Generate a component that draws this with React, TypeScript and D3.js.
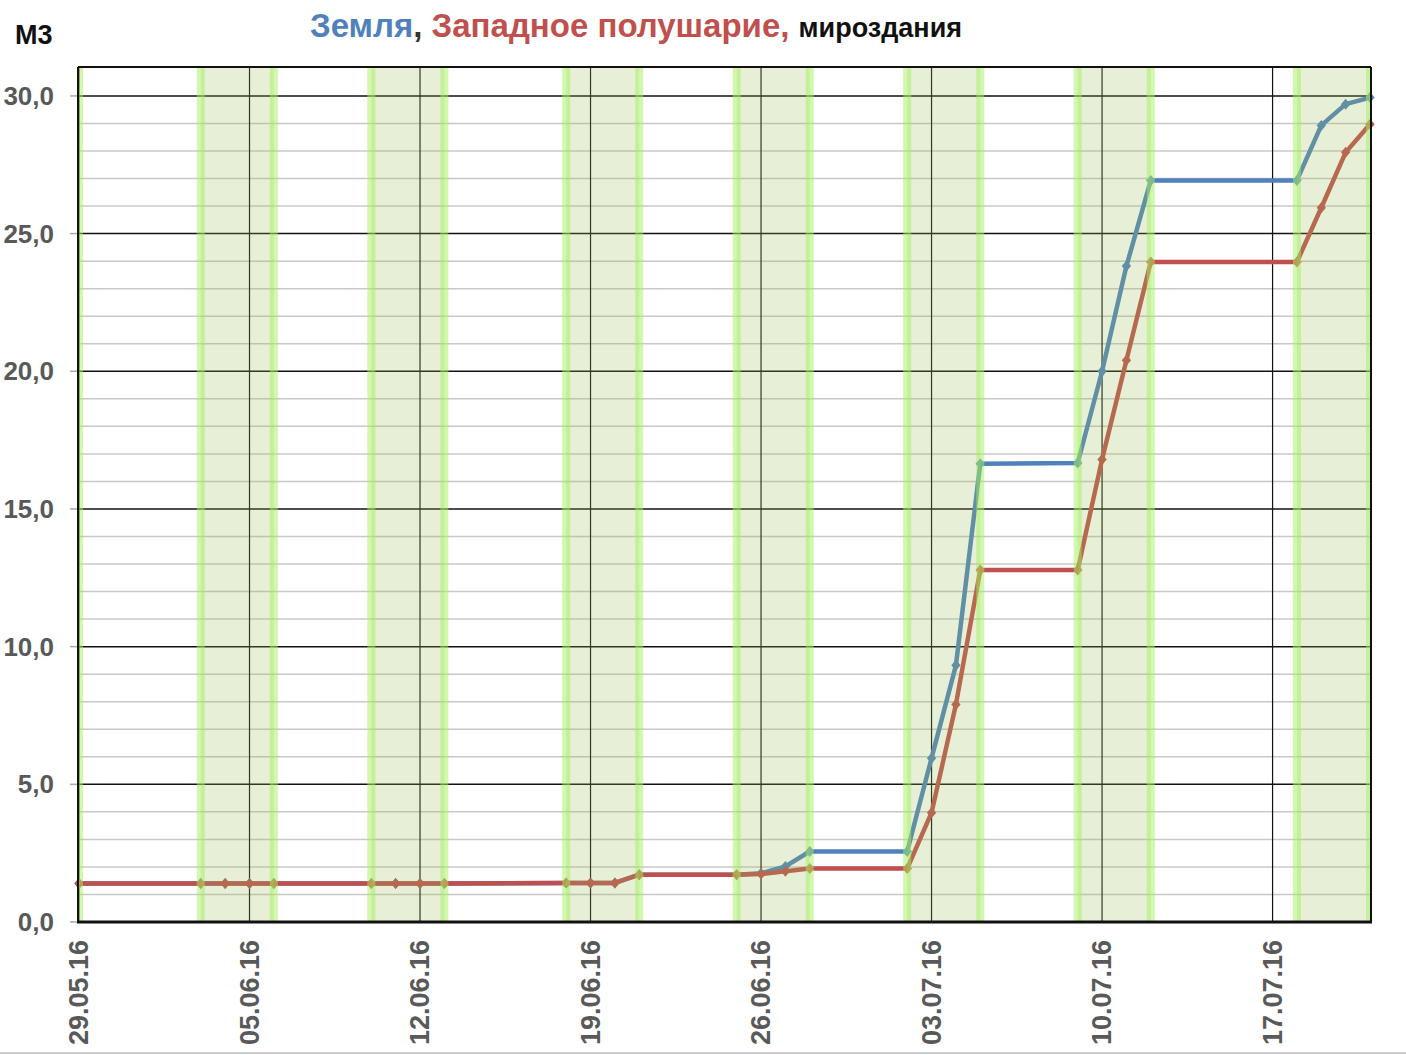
import * as d3 from 'd3';

const DATES = [
  '2016-05-29',
  '2016-06-03', '2016-06-04', '2016-06-05', '2016-06-06',
  '2016-06-10', '2016-06-11', '2016-06-12', '2016-06-13',
  '2016-06-18', '2016-06-19', '2016-06-20', '2016-06-21',
  '2016-06-25', '2016-06-26', '2016-06-27', '2016-06-28',
  '2016-07-02', '2016-07-03', '2016-07-04', '2016-07-05',
  '2016-07-09', '2016-07-10', '2016-07-11', '2016-07-12',
  '2016-07-18', '2016-07-19', '2016-07-20', '2016-07-21',
];

// Земля
const EARTH = [
  1.4,
  1.4, 1.4, 1.4, 1.4,
  1.4, 1.4, 1.4, 1.4,
  1.42, 1.42, 1.42, 1.72,
  1.72, 1.77, 2.02, 2.56,
  2.56, 5.95, 9.32, 16.64,
  16.67, 20.0, 23.82, 26.93,
  26.93, 28.93, 29.7, 29.94,
];

// Западное полушарие
const WEST = [
  1.4,
  1.4, 1.4, 1.4, 1.4,
  1.4, 1.4, 1.4, 1.4,
  1.42, 1.42, 1.42, 1.72,
  1.72, 1.74, 1.84, 1.94,
  1.94, 3.97, 7.9, 12.78,
  12.78, 16.8, 20.4, 23.97,
  23.97, 25.94, 27.95, 28.97,
];

const BANDS = [
  ['2016-05-29', '2016-05-29'],
  ['2016-06-03', '2016-06-06'],
  ['2016-06-10', '2016-06-13'],
  ['2016-06-18', '2016-06-21'],
  ['2016-06-25', '2016-06-28'],
  ['2016-07-02', '2016-07-05'],
  ['2016-07-09', '2016-07-12'],
  ['2016-07-18', '2016-07-21'],
];

const X_TICKS = [
  '2016-05-29', '2016-06-05', '2016-06-12', '2016-06-19',
  '2016-06-26', '2016-07-03', '2016-07-10', '2016-07-17',
];
const Y_TICKS = [0, 5, 10, 15, 20, 25, 30];

const FONT = '"Liberation Sans", Arial, sans-serif';
const BLUE = '#4f81bd';
const RED = '#c0504d';

const parse = d3.utcParse('%Y-%m-%d');
const fmtDate = d3.utcFormat('%d.%m.%y');

export default function App() {
  const W = 1406;
  const H = 1055;
  const left = 79, right = 1370, top = 67, bottom = 922;

  const x = d3.scaleUtc()
    .domain([parse('2016-05-29')!, parse('2016-07-21')!])
    .range([left, right]);
  const y = d3.scaleLinear().domain([0, 31.05]).range([bottom, top]);

  const minor = d3.range(1, 31).filter(v => v % 5 !== 0);

  const series = [
    { name: 'earth', values: EARTH, color: BLUE },
    { name: 'west', values: WEST, color: RED },
  ];

  const line = d3.line<number>()
    .x((_, i) => x(parse(DATES[i])!))
    .y(v => y(v));

  const diamond = (cx: number, cy: number, r: number) =>
    `M${cx},${cy - r}L${cx + r * 0.85},${cy}L${cx},${cy + r}L${cx - r * 0.85},${cy}Z`;

  return (
    <svg width={W} height={H} style={{ position: 'absolute', left: 0, top: 0, background: '#fff' }}>
      <defs>
        <clipPath id="plot">
          <rect x={left} y={top} width={right - left} height={bottom - top} />
        </clipPath>
      </defs>

      {/* Title */}
      <text x={310} y={37} fontFamily={FONT} fontWeight={700} fontSize={33}>
        <tspan fill={BLUE}>Земля</tspan>
        <tspan fill="#333">, </tspan>
        <tspan fill={RED}>Западное полушарие, </tspan>
        <tspan fill="#111" fontSize={27}>мироздания</tspan>
      </text>
      <text x={15} y={44} fontFamily={FONT} fontWeight={700} fontSize={27} fill="#111">
        М3
      </text>

      {/* Minor grid */}
      {minor.map(v => (
        <line key={`m${v}`} x1={left} x2={right} y1={y(v)} y2={y(v)} stroke="#c8c8c8" strokeWidth={1.5} />
      ))}
      {/* Major grid */}
      {Y_TICKS.map(v => (
        <g key={`y${v}`}>
          <line x1={left} x2={right} y1={y(v)} y2={y(v)} stroke="#111" strokeWidth={1.5} />
          <line x1={70} x2={left} y1={y(v)} y2={y(v)} stroke="#aaa" strokeWidth={1.5} />
          <text
            x={54} y={y(v)} textAnchor="end" dominantBaseline="central"
            fontFamily={FONT} fontWeight={700} fontSize={26} fill="#595959"
          >
            {d3.format('.1f')(v).replace('.', ',')}
          </text>
        </g>
      ))}
      {/* Vertical grid + x labels */}
      {X_TICKS.map(d => {
        const px = x(parse(d)!);
        return (
          <g key={d}>
            <line x1={px} x2={px} y1={top} y2={bottom} stroke="#111" strokeWidth={1.2} />
            <text
              transform={`translate(${px},940) rotate(-90)`}
              textAnchor="end" dominantBaseline="central"
              fontFamily={FONT} fontWeight={700} fontSize={27} fill="#595959"
            >
              {fmtDate(parse(d)!)}
            </text>
          </g>
        );
      })}

      {/* Series */}
      {series.map(s => (
        <g key={s.name}>
          <path d={line(s.values) ?? ''} fill="none" stroke={s.color} strokeWidth={4.5} strokeLinejoin="round" />
          {s.values.map((v, i) => (
            <path key={i} d={diamond(x(parse(DATES[i])!), y(v), 5.5)} fill={s.color} />
          ))}
        </g>
      ))}

      {/* Shaded bands */}
      <g clipPath="url(#plot)">
        {BANDS.map(([a, b]) => {
          const xa = x(parse(a)!);
          const xb = x(parse(b)!);
          return (
            <g key={a}>
              {xb > xa && (
                <rect x={xa} y={top} width={xb - xa} height={bottom - top} fill="#9bbb59" opacity={0.24} />
              )}
              <rect x={xa - 4} y={top} width={8} height={bottom - top} fill="#a6f060" opacity={0.5} />
              {xb > xa && (
                <rect x={xb - 4} y={top} width={8} height={bottom - top} fill="#a6f060" opacity={0.5} />
              )}
            </g>
          );
        })}
      </g>

      {/* Plot border */}
      <line x1={left - 1} x2={right + 1} y1={top} y2={top} stroke="#111" strokeWidth={2} />
      <line x1={left - 1} x2={left - 1} y1={top} y2={bottom} stroke="#111" strokeWidth={2} />
      <line x1={right + 1} x2={right + 1} y1={top} y2={bottom} stroke="#111" strokeWidth={2} />
      <line x1={left - 2} x2={right + 2} y1={bottom} y2={bottom} stroke="#111" strokeWidth={3} />

      <line x1={0} x2={W} y1={H - 2} y2={H - 2} stroke="#ccc" strokeWidth={2} />
    </svg>
  );
}
